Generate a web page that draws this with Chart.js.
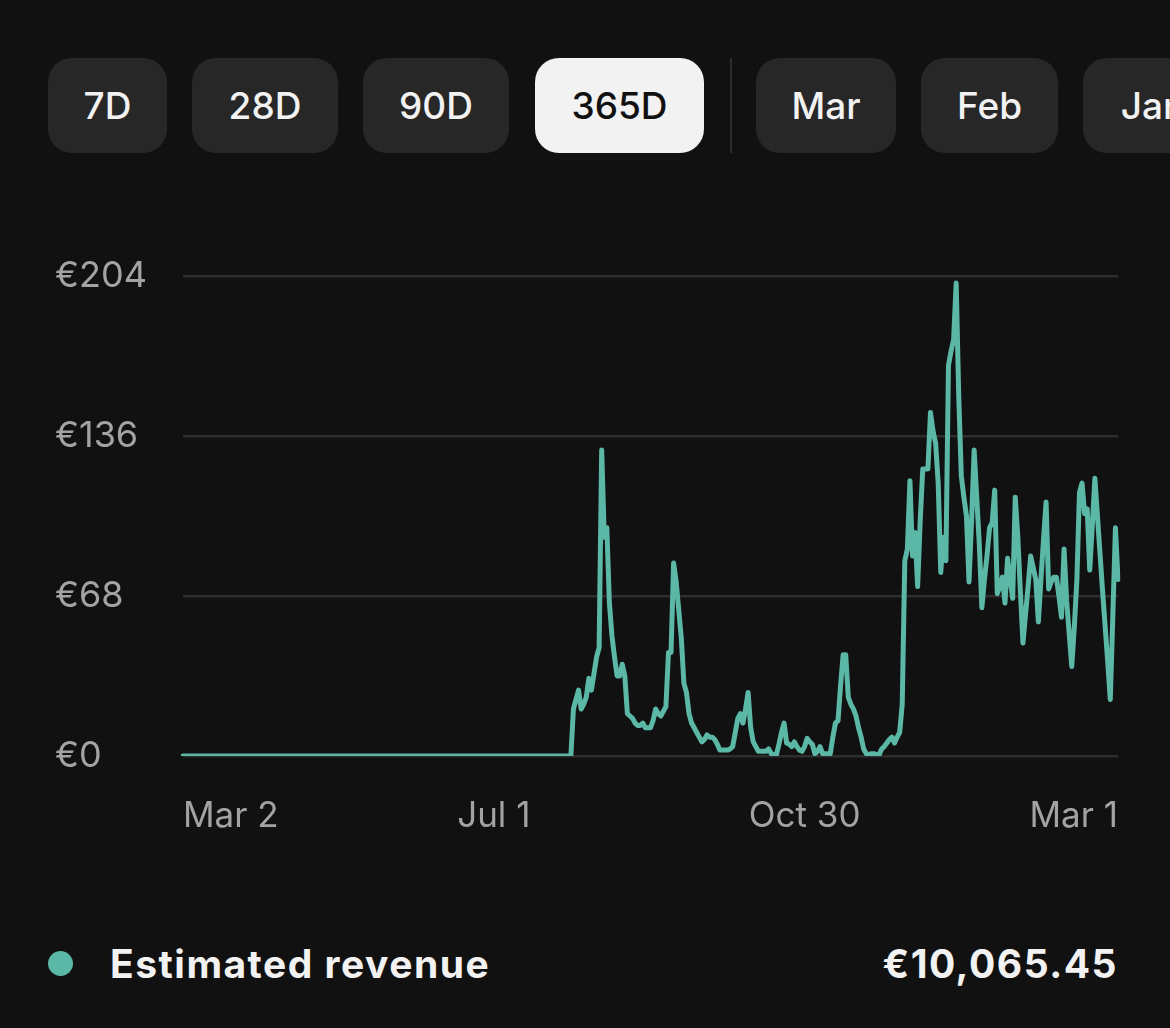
<!DOCTYPE html>
<html>
<head>
<meta charset="utf-8">
<script src="https://cdn.jsdelivr.net/npm/chart.js@4.4.1/dist/chart.umd.min.js"></script>
<style>
  html, body { margin: 0; padding: 0; background: #111111; width: 1170px; height: 1028px; overflow: hidden; }
  body { position: relative; font-family: Inter, "Open Sans", sans-serif; }
  .btn { position: absolute; top: 58px; height: 95px; border-radius: 24px; background: #272727; color: #f2f2f2;
         font-size: 37px; font-weight: 500; display: flex; align-items: center; justify-content: center; }
  .btn.on { background: #f2f2f2; color: #111; }
  .sep { position: absolute; left: 730px; top: 58px; width: 2px; height: 95px; background: #2c2c2c; }
  #wrap { position: absolute; left: 55px; top: 250px; width: 1075px; height: 600px; }
  .dot { position: absolute; left: 48px; top: 951px; width: 25px; height: 25px; border-radius: 50%; background: #5bb8a7; }
  .lbl { position: absolute; top: 940px; font-size: 39px; font-weight: 700; color: #f2f2f2; letter-spacing: 1.5px; }
</style>
</head>
<body>
<div class="btn" style="left:48px;width:119px">7D</div>
<div class="btn" style="left:192px;width:146px">28D</div>
<div class="btn" style="left:363px;width:146px">90D</div>
<div class="btn on" style="left:535px;width:169px">365D</div>
<div class="sep"></div>
<div class="btn" style="left:756px;width:140px">Mar</div>
<div class="btn" style="left:921px;width:137px">Feb</div>
<div class="btn" style="left:1083px;width:140px">Jan</div>

<div id="wrap"><canvas id="Chart"></canvas></div>

<div class="dot"></div>
<div class="lbl" style="left:110px">Estimated revenue</div>
<div class="lbl" style="right:52px">€10,065.45</div>

<script>
// 365 days, Mar 2 -> Mar 1
var startDate = new Date(2024, 2, 2);
var dayCount = 365;

// Daily revenue (EUR). First 152 days are zero.
var zeroDays = 152;
var activeRevenue = [
  20, 24, 28, 20, 22, 25, 33, 28, 35, 42, 46, 130, 93, 97, 65, 51, 42, 34, 34, 39,
  34, 18, 17, 16, 14, 13, 13, 14, 12, 12, 12, 15, 20, 18, 17, 19, 21, 44, 44, 82,
  74, 62, 50, 31, 27, 18, 14, 12, 10, 8, 6, 7, 9, 8, 8, 7, 5, 2.5, 2.5, 2.5,
  2.5, 3, 4, 10, 16, 18, 14, 20, 27, 12, 6, 4, 2, 2, 2, 2, 3, 1, 0.5, 0.5,
  5, 10, 14, 5.5, 5, 4, 6, 4, 2.5, 2, 4, 7.5, 6, 5, 1, 2, 4, 1, 1, 1,
  1, 8, 14, 15, 30, 43, 43, 25, 22, 20, 17, 12, 8, 3, 1, 0.5, 1, 1, 0.5, 0.5,
  3, 4, 5.5, 7, 8, 5.5, 8, 10, 22, 83, 88, 117, 85, 95, 72, 100, 122, 122, 122, 146,
  138, 133, 116, 78, 93, 83, 166, 172, 177, 201, 153, 119, 110, 102, 74, 100, 130, 110, 90, 63,
  75, 85, 97, 99, 113, 69, 72, 76, 65, 84, 75, 67, 110, 93, 70, 48, 60, 72, 85, 80,
  75, 57, 75, 92, 108, 71, 74, 76, 76, 68, 59, 88, 66, 52, 38, 55, 75, 112, 116, 103,
  105, 79, 98, 118, 102, 86, 70, 55, 40, 24, 60, 97, 75
];

// axis ticks
var yTicks = [0, 68, 136, 204];
var xTickIndex = [0, 121, 242, 364];

var months = ['Jan','Feb','Mar','Apr','May','Jun','Jul','Aug','Sep','Oct','Nov','Dec'];
var dayLabels = [];
for (var i = 0; i < dayCount; i++) {
  var d = new Date(startDate.getFullYear(), startDate.getMonth(), startDate.getDate() + i);
  dayLabels.push(months[d.getMonth()] + ' ' + d.getDate());
}
var revenue = new Array(zeroDays).fill(0).concat(activeRevenue);

var data = {
  labels: dayLabels,
  datasets: [{
    label: 'Estimated revenue',
    data: revenue,
    borderColor: '#5bb8a7',
    borderWidth: 5,
    borderJoinStyle: 'round',
    borderCapStyle: 'round',
    pointRadius: 0,
    tension: 0,
    fill: false
  }]
};

var config = {
  type: 'line',
  data: data,
  options: {
    responsive: true,
    maintainAspectRatio: false,
    animation: false,
    layout: { padding: { top: 26, right: 12, bottom: 0, left: 0 } },
    plugins: { legend: { display: false }, tooltip: { enabled: false } },
    scales: {
      x: {
        type: 'category',
        grid: { display: false },
        border: { display: false },
        afterBuildTicks: function (axis) {
          axis.ticks = xTickIndex.map(function (v) { return { value: v }; });
        },
        afterFit: function (axis) {
          axis.height = 94;
          axis.paddingLeft = 0;
          axis.paddingRight = 0;
        },
        ticks: {
          autoSkip: false,
          maxRotation: 0,
          align: 'inner',
          padding: 31,
          color: '#a3a3a3',
          font: { family: 'Inter', size: 35 }
        }
      },
      y: {
        min: 0,
        max: 204,
        afterBuildTicks: function (axis) {
          axis.ticks = yTicks.map(function (v) { return { value: v }; });
        },
        afterFit: function (axis) { axis.width = 128; },
        grid: { color: '#2e2e2e', lineWidth: 2.5, drawTicks: false },
        border: { display: false },
        ticks: {
          crossAlign: 'far',
          padding: 0,
          color: '#a3a3a3',
          font: { family: 'Inter', size: 36 },
          callback: function (v) { return '€' + v; }
        }
      }
    }
  }
};

var ctx = document.getElementById('Chart').getContext('2d');
var myChart = new Chart(ctx, config);
</script>
</body>
</html>
